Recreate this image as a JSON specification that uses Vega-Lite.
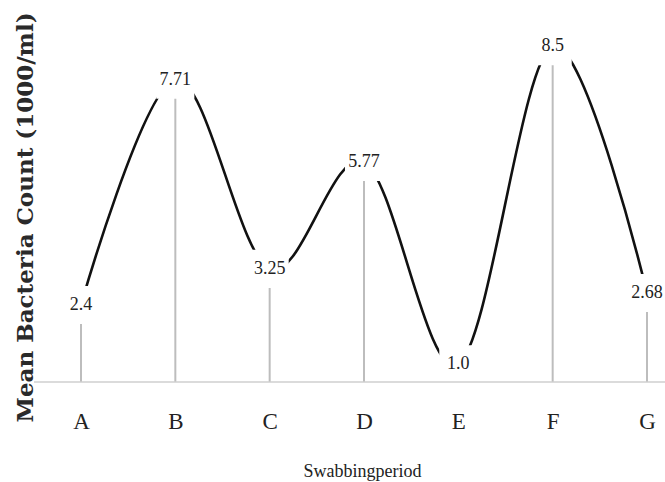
{
  "$schema": "https://vega.github.io/schema/vega-lite/v6.json",
  "width": 631,
  "height": 382,
  "autosize": "none",
  "padding": {"left": 34, "top": 0, "right": 0, "bottom": 100},
  "background": "white",
  "config": {"view": {"stroke": null}},
  "datasets": {
    "counts": [
      {"period": "A", "count": 2.4, "label": "2.4"},
      {"period": "B", "count": 7.71, "label": "7.71"},
      {"period": "C", "count": 3.25, "label": "3.25"},
      {"period": "D", "count": 5.77, "label": "5.77"},
      {"period": "E", "count": 1.0, "label": "1.0"},
      {"period": "F", "count": 8.5, "label": "8.5"},
      {"period": "G", "count": 2.68, "label": "2.68"}
    ],
    "base": [{"level": 0.583}]
  },
  "layer": [
    {
      "data": {"name": "counts"},
      "mark": {"type": "rule", "color": "#bdbdbd", "strokeWidth": 2},
      "encoding": {
        "x": {
          "field": "period", "type": "ordinal",
          "scale": {"type": "point", "range": [47, 613], "padding": 0},
          "axis": {
            "domain": false, "ticks": false, "grid": false, "labelAngle": 0,
            "labelFont": "Liberation Serif", "labelFontSize": 23, "labelColor": "#222",
            "labelPadding": 28,
            "title": "Swabbingperiod", "titleFont": "Liberation Serif", "titleFontSize": 18,
            "titleFontWeight": "normal", "titleColor": "#222",
            "titleX": 328, "titleY": 94, "titleAlign": "center", "titleBaseline": "alphabetic"
          }
        },
        "y": {
          "field": "count", "type": "quantitative",
          "scale": {"domain": [0.583, 9.592], "nice": false, "zero": false},
          "axis": {
            "domain": false, "ticks": false, "labels": false, "grid": false,
            "title": "Mean Bacteria Count (1000/ml)", "titleFont": "DejaVu Serif",
            "titleFontSize": 23, "titleFontWeight": "bold", "titleColor": "#2a2a2a",
            "titleX": -2, "titleY": 217, "titleAlign": "center", "titleBaseline": "alphabetic"
          }
        },
        "y2": {"datum": 0.583}
      }
    },
    {
      "data": {"name": "counts"},
      "mark": {"type": "line", "interpolate": "cardinal", "tension": 0, "color": "#111", "strokeWidth": 2.6},
      "encoding": {
        "x": {"field": "period", "type": "ordinal"},
        "y": {"field": "count", "type": "quantitative"}
      }
    },
    {
      "data": {"name": "counts"},
      "mark": {"type": "point", "shape": "square", "size": 1450, "filled": true, "fill": "#ffffff", "fillOpacity": 1, "opacity": 1, "strokeOpacity": 0},
      "encoding": {
        "x": {"field": "period", "type": "ordinal"},
        "y": {"field": "count", "type": "quantitative"}
      }
    },
    {
      "data": {"name": "counts"},
      "mark": {"type": "text", "font": "Liberation Serif", "fontSize": 18, "color": "#222", "baseline": "middle", "align": "center"},
      "encoding": {
        "x": {"field": "period", "type": "ordinal"},
        "y": {"field": "count", "type": "quantitative"},
        "text": {"field": "label", "type": "nominal"}
      }
    },
    {
      "data": {"name": "base"},
      "mark": {"type": "rule", "color": "#cfcfcf", "strokeWidth": 1.5},
      "encoding": {
        "y": {"field": "level", "type": "quantitative"}
      }
    }
  ]
}
